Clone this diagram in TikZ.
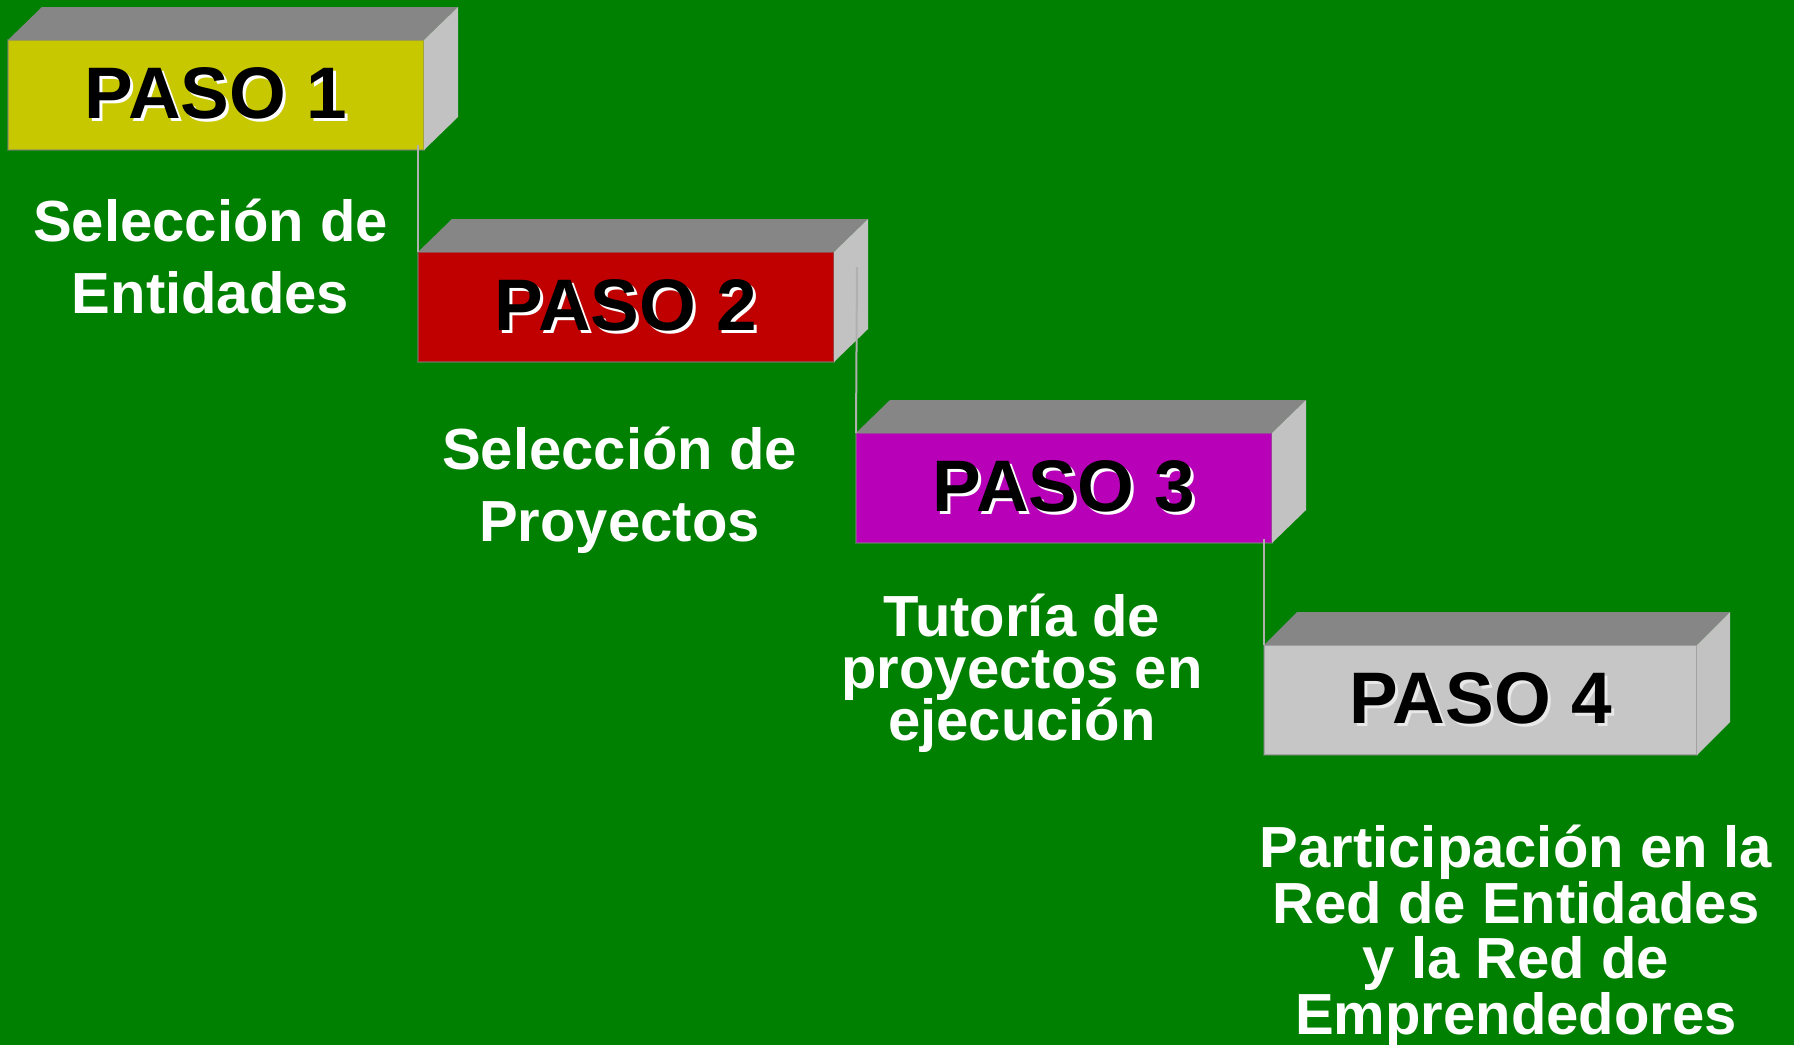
\documentclass[tikz,border=0pt]{standalone}
\usepackage{fontspec}
\setmainfont{Liberation Sans}
\usepackage{xcolor}
\usepackage{tikz}
\definecolor{bggreen}{RGB}{0,128,0}
\definecolor{pasoyellow}{RGB}{200,200,0}
\definecolor{pasored}{RGB}{192,0,0}
\definecolor{pasomagenta}{RGB}{184,0,184}
\definecolor{pasogray}{RGB}{198,198,198}
\definecolor{topgray}{RGB}{134,134,134}
\definecolor{sidegray}{RGB}{194,194,194}
\definecolor{linkgray}{RGB}{176,176,176}
\newcommand{\pasotext}[2][white]{\makebox[0pt][l]{\hspace{1.5pt}\raisebox{-1.5pt}{\textcolor{#1}{#2}}}#2}
\newcommand{\exactlines}{\setlength{\lineskiplimit}{-50pt}}
\tikzset{
    pasobox/.style={align=center,inner sep=0pt,outer sep=0pt,minimum width=208pt,minimum height=55pt,draw=gray,draw opacity=0.5,line width=0.8pt,anchor=north west,font=\fontsize{36.5}{36.5}\selectfont\bfseries},
    yellowbox/.style={pasobox,fill=pasoyellow},
    redbox/.style={pasobox,fill=pasored},
    magentabox/.style={pasobox,fill=pasomagenta},
    graybox/.style={pasobox,fill=pasogray,minimum width=216.5pt},
    topface/.style={fill=topgray},
    sideface/.style={fill=sidegray},
    caption/.style={anchor=base,align=center,inner sep=0pt,text=white,font=\fontsize{29}{36}\selectfont\bfseries\exactlines},
    tightcaption/.style={caption,font=\fontsize{29}{26}\selectfont\bfseries\exactlines},
    midcaption/.style={caption,font=\fontsize{29}{27.75}\selectfont\bfseries\exactlines},
    link/.style={draw=linkgray,line width=1pt}
}

\begin{document}
\begin{tikzpicture}[x=0.5pt,y=-0.5pt]

\useasboundingbox (0,0) rectangle (1794,1045);
\fill[bggreen] (0,0) rectangle (1794,1045);

% the four steps
\node[yellowbox]  (P1) at (8,40)    {\pasotext{PASO 1}};
\node[redbox]     (P2) at (418,252) {\pasotext{PASO 2}};
\node[magentabox] (P3) at (856,433) {\pasotext{PASO 3}};
\node[graybox]    (P4) at (1264,645) {\pasotext[white!60!pasogray]{PASO 4}};

% top and side of each box
\fill[topface]  (P1.north west) -- ++(34,-33) -- ([shift={(34,-33)}]P1.north east) -- (P1.north east) -- cycle;
\fill[sideface] (P1.north east) -- ++(34,-33) -- ([shift={(34,-33)}]P1.south east) -- (P1.south east) -- cycle;
\fill[topface]  (P2.north west) -- ++(34,-33) -- ([shift={(34,-33)}]P2.north east) -- (P2.north east) -- cycle;
\fill[sideface] (P2.north east) -- ++(34,-33) -- ([shift={(34,-33)}]P2.south east) -- (P2.south east) -- cycle;
\fill[topface]  (P3.north west) -- ++(34,-33) -- ([shift={(34,-33)}]P3.north east) -- (P3.north east) -- cycle;
\fill[sideface] (P3.north east) -- ++(34,-33) -- ([shift={(34,-33)}]P3.south east) -- (P3.south east) -- cycle;
\fill[topface]  (P4.north west) -- ++(33,-33) -- ([shift={(33,-33)}]P4.north east) -- (P4.north east) -- cycle;
\fill[sideface] (P4.north east) -- ++(33,-33) -- ([shift={(33,-33)}]P4.south east) -- (P4.south east) -- cycle;

% links
\coordinate (T1) at (418,145);
\coordinate (T2) at (857,267);
\coordinate (T3) at (1264,539);
\draw[link] (T1) -- (P2.north west);
\draw[link] (T2) -- (P3.north west);
\draw[link] (T3) -- (P4.north west);

% captions
\node[caption]      (C1) at (210.5,313) {Selección de\\Entidades};
\node[caption]      (C2) at (619.5,541) {Selección de\\Proyectos};
\node[tightcaption] (C3) at (1022,740)  {Tutoría de\\proyectos en\\ejecución};
\node[midcaption]   (C4) at (1516,1034) {Participación en la\\Red de Entidades\\y la Red de\\Emprendedores};

\end{tikzpicture}
\end{document}
